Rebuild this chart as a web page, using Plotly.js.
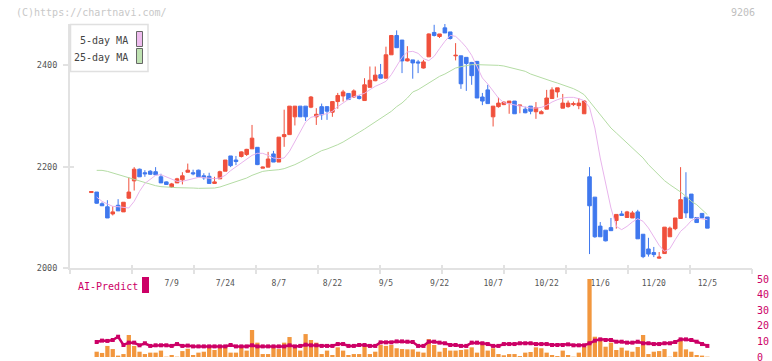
<!DOCTYPE html>
<html><head><meta charset="utf-8">
<script src="https://cdn.plot.ly/plotly-3.0.1.min.js"></script>
<style>html,body{margin:0;padding:0;background:#fff}#c{width:772px;height:361px}</style>
</head><body><div id="c"></div>
<script>
var dates = ['6/18','6/19','6/20','6/23','6/24','6/25','6/26','6/27','6/30',
'7/1','7/2','7/3','7/4','7/7','7/8','7/9','7/10','7/11','7/14','7/15','7/16','7/17','7/18','7/22','7/23','7/24','7/25','7/28','7/29','7/30','7/31',
'8/1','8/4','8/5','8/6','8/7','8/8','8/12','8/13','8/14','8/15','8/18','8/19','8/20','8/21','8/22','8/25','8/26','8/27','8/28','8/29',
'9/1','9/2','9/3','9/4','9/5','9/8','9/9','9/10','9/11','9/12','9/16','9/17','9/18','9/19','9/22','9/24','9/25','9/26','9/29','9/30',
'10/1','10/2','10/3','10/6','10/7','10/8','10/9','10/10','10/14','10/15','10/16','10/17','10/20','10/21','10/22','10/23','10/24','10/27','10/28','10/29','10/30','10/31',
'11/4','11/5','11/6','11/7','11/10','11/11','11/12','11/13','11/14','11/17','11/18','11/19','11/20','11/21','11/25','11/26','11/27','11/28',
'12/1','12/2','12/3','12/4','12/5'];
var tickLabels = ['7/9','7/24','8/7','8/22','9/5','9/22','10/7','10/22','11/6','11/20','12/5'];

var openP = [2149,2150,2127,2121,2107,2124,2111,2138,2172,2195,2188,2191,2190,2180,2170,2160,2168,2174,2189,2188,
2193,2182,2181,2167,2176,2191,2221,2213,2220,2224,2235,2238,2197,2199,2225,2209,2259,2263,2298,2319,
2319,2317,2298,2318,2318,2307,2328,2339,2344,2337,2338,2330,2356,2369,2381,2374,2420,2458,2449,2408,
2410,2406,2394,2416,2464,2456,2473,2465,2418,2418,2415,2405,2407,2337,2351,2298,2318,2322,2325,2329,
2320,2313,2319,2308,2304,2313,2334,2347,2315,2318,2322,2320,2304,2180,2140,2083,2075,2080,2094,2107,
2100,2099,2111,2067,2038,2031,2020,2029,2062,2078,2098,2140,2146,2100,2108,2101];
var highP = [2151,2150,2130,2134,2122,2136,2130,2179,2199,2196,2193,2193,2199,2186,2171,2168,2178,2189,2206,2194,
2194,2187,2188,2180,2192,2213,2221,2221,2230,2235,2282,2238,2200,2229,2231,2258,2312,2319,2319,2319,
2319,2339,2315,2324,2318,2328,2345,2351,2344,2352,2341,2374,2397,2397,2402,2436,2459,2468,2449,2437,
2410,2410,2410,2462,2479,2461,2481,2465,2443,2418,2415,2406,2408,2345,2361,2319,2336,2328,2329,2329,
2321,2318,2319,2327,2311,2351,2356,2355,2343,2330,2328,2335,2331,2199,2140,2091,2075,2099,2106,2113,
2113,2113,2115,2067,2060,2042,2032,2081,2082,2099,2199,2189,2146,2100,2108,2101];
var lowP = [2149,2127,2123,2099,2104,2113,2111,2137,2153,2180,2180,2184,2184,2168,2164,2158,2168,2165,2189,2183,
2180,2174,2167,2166,2176,2191,2199,2203,2218,2221,2235,2203,2197,2199,2209,2209,2239,2263,2281,2298,
2290,2315,2282,2292,2292,2298,2314,2328,2331,2335,2332,2330,2356,2368,2374,2374,2420,2434,2384,2407,
2373,2384,2393,2416,2456,2453,2463,2450,2409,2353,2349,2361,2335,2321,2324,2279,2316,2321,2304,2304,
2305,2305,2303,2294,2304,2313,2334,2336,2315,2316,2319,2313,2304,2028,2060,2062,2053,2074,2078,2103,
2100,2099,2058,2020,2023,2022,2019,2029,2062,2075,2098,2099,2099,2090,2099,2079];
var closeP = [2151,2128,2123,2099,2111,2113,2130,2150,2195,2180,2186,2185,2184,2168,2165,2166,2176,2182,2193,2186,
2180,2178,2167,2170,2190,2213,2202,2210,2229,2234,2256,2204,2199,2215,2209,2258,2263,2319,2319,2298,
2298,2337,2303,2302,2309,2328,2340,2347,2332,2349,2334,2361,2370,2380,2374,2420,2458,2434,2408,2412,
2404,2404,2406,2461,2458,2461,2463,2452,2419,2363,2403,2379,2335,2329,2324,2319,2325,2327,2329,2304,
2321,2306,2309,2316,2308,2335,2351,2355,2325,2325,2324,2325,2329,2123,2062,2062,2054,2074,2106,2104,
2111,2109,2058,2023,2028,2027,2022,2081,2079,2099,2135,2109,2099,2090,2099,2079];
var ma5 = [null,2140.2,2131.7,2126.5,2121.9,2121.2,2119.9,2118.6,2131.7,2151.4,2167.1,2175.7,2182.9,2184.2,2180.2,2175,2171.1,2171.1,2173.7,2176.3,
2178.9,2178.3,2177,2176.3,2177.6,2182.9,2192.1,2199.9,2206.5,2213.7,2222.2,2226.2,2226.2,2222.2,2217,2215.7,2217,2230.1,2249.8,2270.7,
2287.8,2297,2300.3,2302.2,2304.2,2308.8,2318,2325.8,2332.4,2337.6,2340.3,2344.2,2351.4,2358,2362.6,2367.8,2380.9,2397.3,2415,2425.5,
2426.8,2422.9,2412.4,2408.5,2417,2432.1,2446.5,2458.3,2456.3,2446.5,2434.7,2419,2395.3,2374.4,2362.6,2349.4,2335,2325.8,2323.2,2321.9,
2319.3,2317.3,2315.3,2315.3,2316.6,2320.6,2327.1,2331.7,2335,2336.3,2336.3,2333.7,2329.8,2316.6,2276,2217,2164.5,2118.6,2082.5,2076,
2082.5,2091.1,2097.6,2092.4,2079.3,2060.9,2045.1,2033.3,2038.6,2056.3,2072.7,2081.9,2093.7,2099,2097.6,2095.6];
var ma25 = [null,2192.7,2192.7,2190.7,2187.4,2184.2,2180.9,2177.6,2174.3,2171.1,2167.8,2164.5,2162.5,2160.6,2159.3,2159.3,2158.6,2157.9,2157.9,2157.9,
2157.3,2157.3,2157.3,2157.9,2159.9,2163.2,2167.1,2170.4,2173.7,2177.6,2182.9,2187.4,2190.7,2192.1,2192.7,2194,2196,2199.3,2203.9,2209.1,
2214.3,2220.2,2226.2,2231.4,2234.7,2238.6,2243.2,2248.4,2254.3,2261.6,2267.5,2274,2281.2,2287.8,2295.6,2302.2,2308.8,2318,2325.2,2335,
2346.8,2351.4,2358,2364.5,2371.1,2377.6,2382.2,2388.8,2394,2396.6,2399.3,2400.6,2400.6,2400.6,2400.6,2399.9,2399.3,2398,2395.3,2393.4,
2390.8,2387.5,2382.2,2378.3,2374.4,2371.1,2367.8,2364.5,2361.2,2358,2353.4,2348.1,2341.6,2328.5,2315.3,2302.2,2289.1,2276,2266.2,2256.3,
2246.5,2236.6,2226.8,2217,2203.9,2192.7,2182.2,2172.4,2164.5,2157.9,2150.1,2141.6,2131.7,2125.2,2115.3,2105.5];
var volume = [null,3.4,2.6,7.1,5.1,0.9,1.9,14.1,7.1,3.4,1.9,2.8,2.8,4.1,0.2,1.3,0.2,3.8,5.3,1.3,
2.8,3.4,6.2,4.5,5.8,7.1,2.8,2.8,6.2,4.1,17.3,9.2,1.9,1.9,6.2,5.1,9.2,12.8,6.2,4.1,
14.7,10.9,9.2,1.9,4.1,1.3,6.2,4.1,1.3,1.9,1.9,7.1,1.9,3.4,7.7,7.1,7.7,5.6,5.1,4.9,
4.9,3.4,2.8,11.5,7.7,3.4,5.8,4.1,4.1,4.5,4.9,6.2,2.8,8.3,4.1,5.6,1.9,1.1,1.9,1.9,
0.6,2.8,3.2,6.2,5.6,2.8,1.3,0.6,4.1,1.3,0.2,2.8,6.6,50,13.0,11.3,6.6,9.2,4.5,6.0,
4.1,3.4,6.4,14.1,1.9,3.4,3.8,5.1,0.2,3.4,10.3,4.9,3.4,1.3,0.9,0.2];
var aiPredict = [null,9.6,10.5,10.3,10.9,13.0,7.7,9.2,9.2,7.5,8.8,7.1,7.5,7.5,7.5,7.1,8.3,7.1,7.3,6.8,
6.8,6.8,6.8,6.8,6.8,6.8,7.7,6.8,6.8,6.8,7.5,6.8,6.8,6.8,6.8,6.8,6.8,7.5,6.8,7.1,
7.9,7.5,7.5,7.1,7.1,7.1,8.3,8.3,7.1,7.1,7.7,7.7,7.1,7.1,9.4,9.4,9.4,10.0,10.0,9.8,
9.6,7.1,7.1,9.8,9.8,9.2,8.8,7.7,7.7,7.1,7.1,9.2,9.2,8.8,8.3,7.1,7.1,8.3,8.3,8.3,
8.8,8.8,8.8,8.3,8.3,8.3,7.7,7.7,7.7,8.1,7.5,7.5,7.5,8.8,10.5,11.3,10.9,10.9,9.8,9.8,
9.2,9.2,9.8,8.8,8.8,8.3,8.3,8.8,8.8,9.6,11.3,11.3,10.9,9.8,8.3,7.1];

var idx = dates.map(function(d, i){ return i; });
var tickIdx = tickLabels.map(function(l){ return dates.indexOf(l); });

var UP = '#f0503c', DOWN = '#3f78ee', CRIM = '#cc0066';
var MONO = 'DejaVu Sans Mono, monospace';
var XR = [-3.98, 123.33];
var W = 772, H = 361, ML = 70, MR = 20, MT = 24, MB = 2;
var PW = W - ML - MR, PH = H - MT - MB;
var BOTTOM = H - MB;
function px(x){ return (x - ML) / PW; }
function py(y){ return 1 - (y - MT) / PH; }
// lower panel: 0 at y=357, 50 at y=279
var LPX = (357 - 279) / 50;
var y2min = -(BOTTOM - 357) / LPX;

var traces = [
  {type:'scatter', mode:'lines', x: idx, y: ma25, line:{color:'#b4dca4', width:1}, hoverinfo:'skip', xaxis:'x', yaxis:'y'},
  {type:'scatter', mode:'lines', x: idx, y: ma5, line:{color:'#e8b4ec', width:1}, hoverinfo:'skip', xaxis:'x', yaxis:'y'},
  {type:'candlestick', x: idx, open: openP, high: highP, low: lowP, close: closeP,
   increasing:{line:{color:UP, width:1}, fillcolor:UP},
   decreasing:{line:{color:DOWN, width:1}, fillcolor:DOWN},
   whiskerwidth:0, hoverinfo:'skip', xaxis:'x', yaxis:'y'},
  {type:'bar', x: idx, y: volume, marker:{color:'#f2973e', line:{width:0}}, hoverinfo:'skip', xaxis:'x', yaxis:'y2'},
  {type:'scatter', mode:'lines+markers', x: idx, y: aiPredict, line:{color:CRIM, width:2.5},
   marker:{symbol:'square', size:4, color:CRIM}, hoverinfo:'skip', xaxis:'x', yaxis:'y2'},
  {type:'scatter', x: [], y: [], xaxis:'x2', yaxis:'y', hoverinfo:'skip'},
  {type:'scatter', x: [], y: [], xaxis:'x3', yaxis:'y', hoverinfo:'skip'},
  {type:'scatter', x: [], y: [], xaxis:'x', yaxis:'y3', hoverinfo:'skip'}
];

var tickAxis = {overlaying:'x', anchor:'y', range: XR, tickmode:'linear', tick0: XR[0], dtick: 62 / (PW / (XR[1]-XR[0])),
  showticklabels:false, showline:false, showgrid:false, zeroline:false, tickcolor:'#e2e2e2', tickwidth:2, fixedrange:true};

var layout = {
  width: W, height: H, margin:{l:ML, r:MR, t:MT, b:MB, pad:0},
  paper_bgcolor:'#fff', plot_bgcolor:'#fff', showlegend:false, hovermode:false,
  bargap:0.2, boxgap:0.05,
  xaxis:{range: XR, anchor:'y', tickmode:'array', tickvals: tickIdx, ticktext: tickLabels, ticks:'',
    tickfont:{family:MONO, size:8, color:'#555'}, ticklabelstandoff:6,
    showline:true, linecolor:'#e2e2e2', linewidth:2, showgrid:false, zeroline:false,
    rangeslider:{visible:false}, fixedrange:true},
  xaxis2: Object.assign({}, tickAxis, {ticks:'outside', ticklen:5}),
  xaxis3: Object.assign({}, tickAxis, {ticks:'inside', ticklen:3}),
  yaxis:{domain:[(BOTTOM - 268.3) / PH, 1], range:[2000, 2480.6], anchor:'x',
    tickmode:'array', tickvals:[2000, 2200, 2400], ticks:'outside', ticklen:5, tickwidth:2, tickcolor:'#e2e2e2',
    tickfont:{family:MONO, size:8.5, color:'#555'}, ticklabelstandoff:4,
    showline:true, linecolor:'#e2e2e2', linewidth:2, showgrid:false, zeroline:false, fixedrange:true},
  yaxis3:{overlaying:'y', anchor:'x', range:[2000, 2480.6], tickmode:'array', tickvals:[2000, 2200, 2400],
    ticks:'inside', ticklen:4, tickwidth:2, tickcolor:'#e2e2e2', showticklabels:false,
    showline:false, showgrid:false, zeroline:false, fixedrange:true},
  yaxis2:{domain:[0, (BOTTOM - 279) / PH], range:[y2min, 50], anchor:'x', side:'right',
    tickmode:'array', tickvals:[0, 10, 20, 30, 40, 50], ticks:'', ticklabelstandoff:4, ticklabeloverflow:'allow',
    tickfont:{family:MONO, size:10, color:CRIM},
    showline:false, showgrid:false, zeroline:false, fixedrange:true},
  shapes:[
    {type:'rect', xref:'paper', yref:'paper', x0:px(70.5), x1:px(148), y0:py(24.5), y1:py(71.5),
      line:{color:'#e0e0e0', width:1.5}, fillcolor:'#fff', layer:'above'},
    {type:'rect', xref:'paper', yref:'paper', x0:px(136.5), x1:px(142.5), y0:py(31.5), y1:py(46.5),
      line:{color:'#666', width:1}, fillcolor:'#eebcee', layer:'above'},
    {type:'rect', xref:'paper', yref:'paper', x0:px(136.5), x1:px(142.5), y0:py(48.5), y1:py(63.5),
      line:{color:'#666', width:1}, fillcolor:'#bfe2b2', layer:'above'},
    {type:'rect', xref:'paper', yref:'paper', x0:px(142), x1:px(149), y0:py(277), y1:py(293),
      line:{width:0}, fillcolor:CRIM, layer:'above'}
  ],
  annotations:[
    {xref:'paper', yref:'paper', x:px(14), y:py(12), xanchor:'left', yanchor:'middle', showarrow:false,
      text:'(C)https://chartnavi.com/', font:{family:MONO, size:10, color:'#c8c8c8'}},
    {xref:'paper', yref:'paper', x:px(757), y:py(12), xanchor:'right', yanchor:'middle', showarrow:false,
      text:'9206', font:{family:MONO, size:10, color:'#c0c0c0'}},
    {xref:'paper', yref:'paper', x:px(130), y:py(40), xanchor:'right', yanchor:'middle', showarrow:false,
      text:'5-day MA', font:{family:MONO, size:10, color:'#444'}},
    {xref:'paper', yref:'paper', x:px(130), y:py(57), xanchor:'right', yanchor:'middle', showarrow:false,
      text:'25-day MA', font:{family:MONO, size:10, color:'#444'}},
    {xref:'paper', yref:'paper', x:px(75.5), y:py(286), xanchor:'left', yanchor:'middle', showarrow:false,
      text:'AI-Predict', font:{family:MONO, size:10, color:CRIM}}
  ]
};

Plotly.newPlot('c', traces, layout, {staticPlot:true, displayModeBar:false});
</script></body></html>
